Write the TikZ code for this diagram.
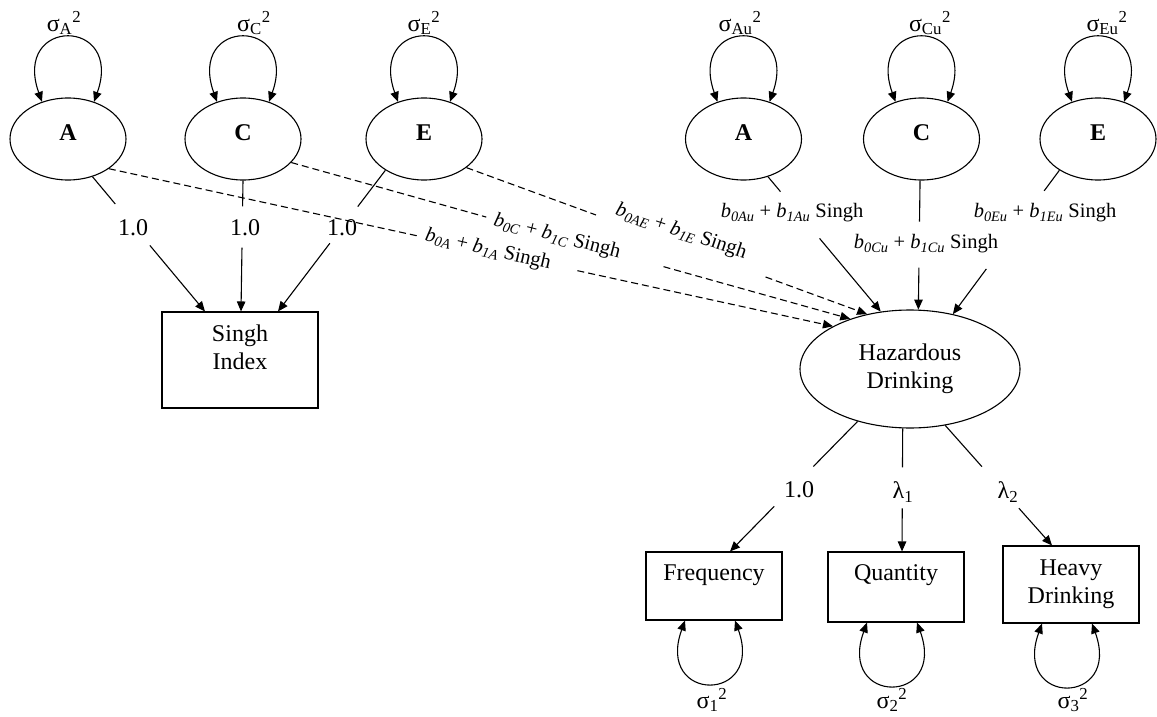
\documentclass[tikz,border=0pt]{standalone}
\usepackage{fontspec}
\setmainfont{Liberation Serif}
\usetikzlibrary{arrows.meta,shapes.geometric}
\newcommand\gapconn[5]{%
  \draw[#1, shorten >=#4] #2 -- #3;
  \draw[#1, ->, shorten <=#5] #2 -- #3;}
\begin{document}
\begin{tikzpicture}[x=1pt,y=-1pt,line width=1.1pt,
  >={Triangle[length=10pt,width=8.5pt]},
  latent/.style={ellipse, draw, minimum width=116pt, minimum height=82pt, inner sep=0pt,
    font=\fontsize{24}{28}\selectfont\bfseries, text height=16pt, text depth=14pt},
  factor/.style={ellipse, draw, minimum width=220pt, minimum height=118pt, inner sep=0pt,
    align=center, font=\fontsize{24}{28}\selectfont},
  obs/.style={rectangle, draw, minimum width=136pt, inner sep=0pt, align=center,
    font=\fontsize{24}{28}\selectfont},
  var/.style={font=\fontsize{24}{28}\selectfont, inner sep=0pt},
  plbl/.style={font=\fontsize{20.5}{24}\selectfont, inner sep=0pt},
  dsh/.style={dash pattern=on 7pt off 4pt}]
\useasboundingbox (0,0) rectangle (1157,717);

% latent factors
\node[latent] (lA) at (68,139) {A};
\node[latent] (lC) at (243,139) {C};
\node[latent] (lE) at (424,139) {E};
\node[latent] (rA) at (743.5,139) {A};
\node[latent] (rC) at (921.5,139) {C};
\node[latent] (rE) at (1098,139) {E};

% main factor and observed
\node[factor] (hd) at (910,369) {Hazardous\\Drinking};
\node[obs, minimum width=156pt, minimum height=96pt] (singh) at (240,360) {};
\node[var, align=center] (singhtxt) at (240,347) {Singh\\Index};
\node[obs, minimum height=68pt, text height=16pt, text depth=28pt] (freq) at (714,586) {Frequency};
\node[obs, minimum height=70pt, text height=16pt, text depth=29pt] (quant) at (896,587) {Quantity};
\node[obs, minimum height=77pt] (heavy) at (1071,584.5) {Heavy\\Drinking};

% variance labels
\node[var] (vA) at (64,23) {σ\textsubscript{A}\textsuperscript{2}};
\node[var] (vC) at (254,23) {σ\textsubscript{C}\textsuperscript{2}};
\node[var] (vE) at (424,23) {σ\textsubscript{E}\textsuperscript{2}};
\node[var] (vAu) at (740,23) {σ\textsubscript{Au}\textsuperscript{2}};
\node[var] (vCu) at (930,23) {σ\textsubscript{Cu}\textsuperscript{2}};
\node[var] (vEu) at (1107,23) {σ\textsubscript{Eu}\textsuperscript{2}};
\node[var] (v1) at (712,700) {σ\textsubscript{1}\textsuperscript{2}};
\node[var] (v2) at (892,700) {σ\textsubscript{2}\textsuperscript{2}};
\node[var] (v3) at (1073,700) {σ\textsubscript{3}\textsuperscript{2}};

% variance loops
\foreach \n in {lA,lC,lE,rA,rC,rE}{
  \draw[<->] (\n.125) .. controls +(-30,-85) and +(30,-85) .. (\n.55);}
\foreach \n in {freq,quant,heavy}{
  \draw[<->] ([xshift=-29pt]\n.south) .. controls +(-30,83) and +(30,83) .. ([xshift=21pt]\n.south);}

% loading labels
\node[var] (wA) at (133,228) {1.0};
\node[var] (wC) at (245,228) {1.0};
\node[var] (wE) at (342,228) {1.0};
\node[var] (w1) at (799,490) {1.0};
\node[var] (w2) at (903,492) {λ\textsubscript{1}};
\node[var] (w3) at (1008,492) {λ\textsubscript{2}};

% loadings
\gapconn{}{(lA.303)}{([xshift=-35pt]singh.north)}{140pt}{89.5pt}
\gapconn{}{(lC.south)}{([xshift=1pt]singh.north)}{105pt}{67pt}
\gapconn{}{(lE.219)}{([xshift=38pt]singh.north)}{131.7pt}{91.8pt}
\gapconn{}{(hd.225)}{([xshift=16pt]freq.north)}{119pt}{119pt}
\gapconn{}{(hd.263)}{([xshift=6pt]quant.north)}{84pt}{80pt}
\gapconn{}{(hd.302)}{([xshift=-19pt]heavy.north)}{105.5pt}{110.8pt}

% unique paths
\gapconn{}{(rA.303)}{(hd.117)}{156.3pt}{80.4pt}
\gapconn{}{(rC.268)}{(hd.82)}{88pt}{87pt}
\gapconn{}{(rE.219)}{(hd.52)}{153.4pt}{122.8pt}
\node[plbl] (pAu) at (792,213) {\textit{b}\textsubscript{\textit{0Au}} + \textit{b}\textsubscript{\textit{1Au}} Singh};
\node[plbl] (pCu) at (926,244) {\textit{b}\textsubscript{\textit{0Cu}} + \textit{b}\textsubscript{\textit{1Cu}} Singh};
\node[plbl] (pEu) at (1045,213) {\textit{b}\textsubscript{\textit{0Eu}} + \textit{b}\textsubscript{\textit{1Eu}} Singh};

% moderated common paths
\gapconn{dsh}{(lA.324)}{(hd.151)}{426pt}{479.5pt}
\gapconn{dsh}{(lC.334)}{(hd.140)}{378pt}{386.6pt}
\gapconn{dsh}{(lE.326)}{(hd.128)}{288.7pt}{318.5pt}
\node[plbl, rotate=-13] (pA) at (488,250) {\textit{b}\textsubscript{\textit{0A}} + \textit{b}\textsubscript{\textit{1A}} Singh};
\node[plbl, rotate=-14.5] (pC) at (557,237) {\textit{b}\textsubscript{\textit{0C}} + \textit{b}\textsubscript{\textit{1C}} Singh};
\node[plbl, rotate=-18.5] (pE) at (681,232) {\textit{b}\textsubscript{\textit{0AE}} + \textit{b}\textsubscript{\textit{1E}} Singh};
\end{tikzpicture}
\end{document}
